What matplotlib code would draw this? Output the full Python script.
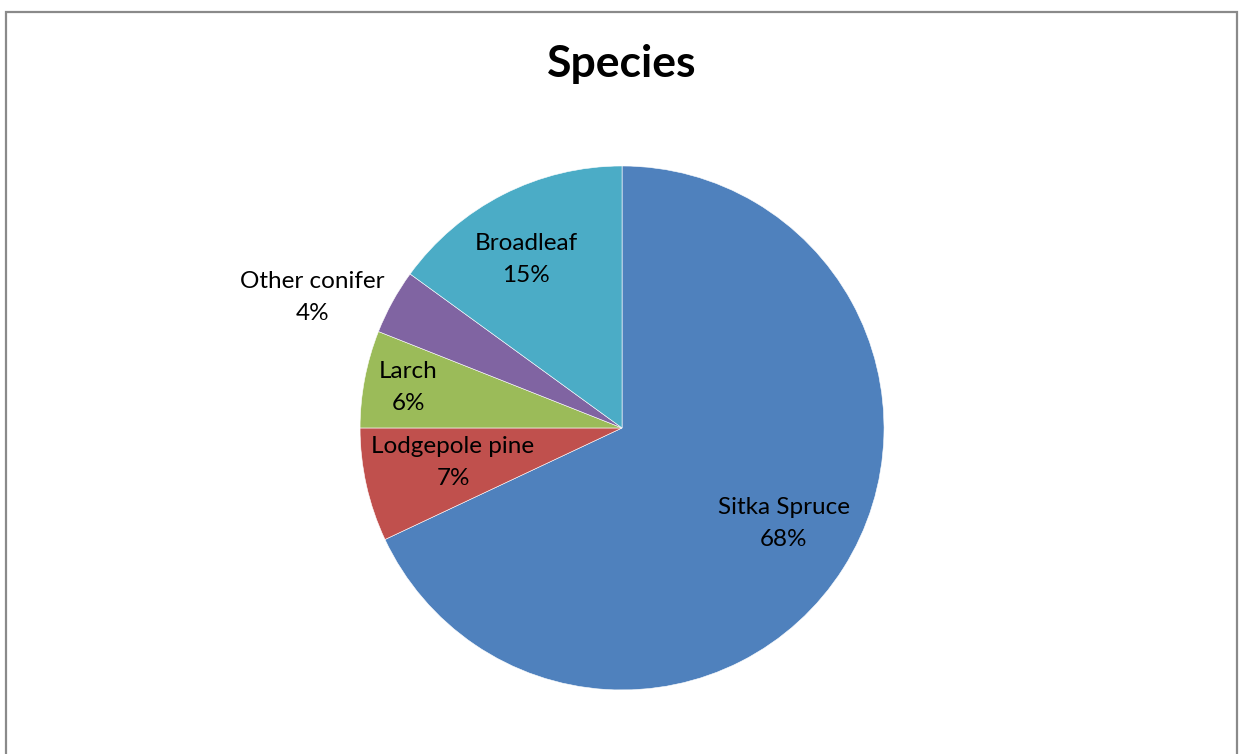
import numpy as np
import matplotlib.pyplot as plt
from matplotlib.patches import Rectangle

species = ['Sitka Spruce', 'Lodgepole pine', 'Larch', 'Other conifer', 'Broadleaf']
shares = [68, 7, 6, 4, 15]
colours = ['#4F81BD', '#C0504D', '#9BBB59', '#8064A2', '#4BACC6']
# label placement: fraction of radius, and angle shift from wedge middle (deg)
label_r = [0.718, 0.658, 0.831, 1.284, 0.739]
label_shift = [1.8, -1.2, 0.2, 5.9, 2.7]

plt.rcParams['font.family'] = ['Lato', 'DejaVu Sans']

fig = plt.figure(figsize=(12.39, 7.54), dpi=100)
ax = fig.add_axes([0.2906, 0.0849, 0.4229, 0.695])

wedges, _ = ax.pie(shares, colors=colours, startangle=90, counterclock=False,
                   radius=1, wedgeprops=dict(edgecolor='white', linewidth=0.4))
ax.set_xlim(-1, 1)
ax.set_ylim(-1, 1)
ax.set_aspect('equal')
ax.axis('off')

for w, name, val, r, sh in zip(wedges, species, shares, label_r, label_shift):
    ang = np.deg2rad((w.theta1 + w.theta2) / 2 + sh)
    ax.text(r * np.cos(ang), r * np.sin(ang), f'{name}\n{val}%',
            ha='center', va='center', fontsize=17.5, linespacing=1.65,
            color='black')

fig.text(0.5015, 0.915, 'Species', ha='center', va='center',
         fontsize=32, fontweight='bold')

# chart border
fig.add_artist(Rectangle((5.5 / 1239, -0.05), (1237 - 5.5) / 1239, 1.05 - 12 / 754,
                         transform=fig.transFigure, fill=False,
                         edgecolor='#8a8a8a', linewidth=1.6, clip_on=False))

fig.savefig('out.png', dpi=100)
